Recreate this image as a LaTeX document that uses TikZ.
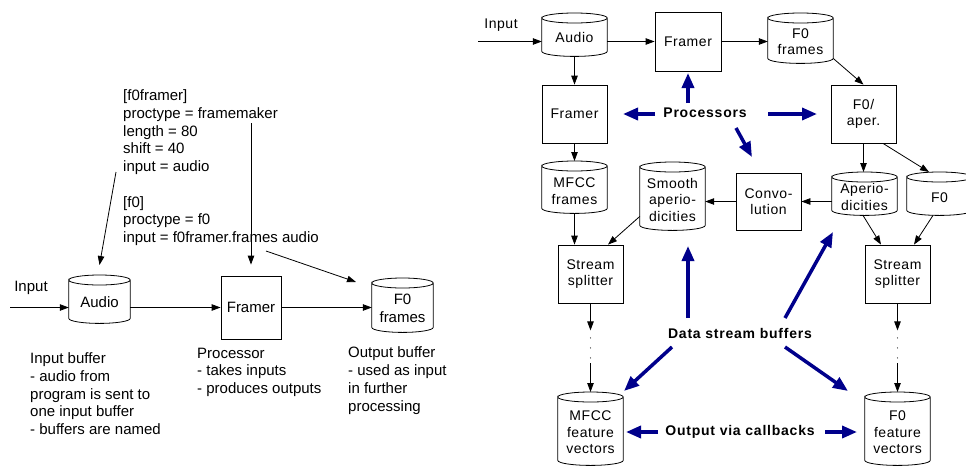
\documentclass[tikz,border=0pt]{standalone}
\usepackage{fontspec}
\setmainfont{Liberation Sans}
\newfontfamily\rfont{Liberation Sans}[LetterSpace=4]
\newfontfamily\lblfont{Liberation Sans}[LetterSpace=5.5]
\usetikzlibrary{arrows.meta,calc}
\definecolor{navy}{RGB}{0,0,139}

% buffer: invisible named box plus the cylinder outline drawn round it
\newcommand\buf[5]{%
  \node[bufbox, minimum width=#4pt, minimum height=#5pt, anchor=north] (#1) at (#2,#3) {};
  \draw[bufline] let \p1=(#1.north west), \p2=(#1.south east), \n1={(\x2-\x1)/2} in
    (\x1,\y1-5pt) arc[start angle=180, end angle=-180, x radius=\n1, y radius=5pt]
    -- (\x1,\y2+5pt) arc[start angle=180, end angle=360, x radius=\n1, y radius=5pt]
    -- (\x2,\y1-5pt);
}

\begin{document}
\begin{tikzpicture}[x=1pt,y=-1pt,
  bufbox/.style={rectangle, inner sep=0pt, draw=none},
  bufline/.style={draw, line width=0.8pt},
  procbox/.style={rectangle, draw, line width=0.8pt, inner sep=0pt, align=center},
  ltxt/.style={inner sep=0pt, align=center, font=\fontsize{15}{17.75}\selectfont},
  note/.style={inner sep=0pt, align=left, anchor=base west, font=\fontsize{15}{17.75}\selectfont},
  rtxt/.style={inner sep=0pt, align=center, font=\rfont\fontsize{14}{16.5}\selectfont},
  lbl/.style={inner sep=0pt, font=\lblfont\bfseries\fontsize{14}{16}\selectfont},
  arr/.style={draw, line width=0.8pt, -{Triangle[length=9pt,width=6.5pt]}},
  bluearr/.style={draw=navy, line width=3.5pt, -{Triangle[length=15pt,width=12pt]}}]
\useasboundingbox (0,0) rectangle (966,466);

% ---------- left: a single processing chain ----------
\buf{audioL}{99.5}{275}{61}{48}
\node[ltxt] (audioLt) at (99.5,302) {Audio};
\node[procbox, ltxt, draw, minimum width=60pt, minimum height=63pt] (framerL) at (251,307.5) {Framer};
\buf{f0fL}{402.5}{278}{61}{54}
\node[ltxt] (f0fLt) at (402.5,308.5) {F0\\frames};

\node[ltxt] (inLlabel) at (31,288) {Input};
\coordinate (inL) at (10,307.5);
\draw[arr] (inL) -- (inL -| audioL.west);
\draw[arr] (audioL.east |- framerL) -- (framerL.west);
\draw[arr] (framerL.east) -- (framerL.east -| f0fL.west);

% multi-line notes are anchored on the baseline of their last line
\node[note] (cfg) at (123,242.5) {[f0framer]\\proctype = framemaker\\length = 80\\shift = 40\\input = audio\\[17.75pt]
  [f0]\\proctype = f0\\input = f0framer.frames audio};
\coordinate (cfgA) at (116,172);
\coordinate (cfgB) at (251,123);
\coordinate (cfgC) at (266,251);
\coordinate (cfgCend) at (356,282);
\draw[arr] (cfgA) -- ([yshift=10pt]audioL.north);
\draw[arr] (cfgB) -- ([yshift=11pt]framerL.north);
\draw[arr] (cfgC) -- (cfgCend);

\node[note] (noteIn) at (30,434.5) {Input buffer\\- audio from\\program is sent to\\one input buffer\\- buffers are named};
\node[note] (noteProc) at (197,393.5) {Processor\\- takes inputs\\- produces outputs};
\node[note] (noteOut) at (348,411) {Output buffer\\- used as input\\in further\\processing};

% ---------- right: the full feature network ----------
\buf{audioR}{574.5}{13}{65}{43}
\node[rtxt] (audioRt) at (574.5,37) {Audio};
\node[procbox, rtxt, draw, minimum width=66pt, minimum height=59pt] (framerR1) at (688,41.5) {Framer};
\buf{f0fR}{800.5}{13}{65}{50}
\node[rtxt] (f0fRt) at (800.5,41.5) {F0\\frames};
\node[procbox, rtxt, draw, minimum width=65pt, minimum height=58pt] (f0ap) at (863.5,114) {F0/\\aper.};
\buf{aper}{864.5}{172}{65}{43}
\node[rtxt] (apert) at (864.5,197) {Aperio-\\dicities};
\buf{f0c}{939.5}{172}{65}{43}
\node[rtxt] (f0ct) at (939.5,198) {F0};
\node[procbox, rtxt, draw, minimum width=65pt, minimum height=57pt] (conv) at (768.5,201.5) {Convo-\\lution};
\buf{smooth}{672.5}{162}{65}{68}
\node[rtxt] (smootht) at (672.5,199.5) {Smooth\\aperio-\\dicities};
\node[procbox, rtxt, draw, minimum width=65pt, minimum height=58pt] (framerR2) at (574.5,114) {Framer};
\buf{mfccf}{574.5}{161}{65}{52}
\node[rtxt] (mfccft) at (574.5,191) {MFCC\\frames};
\node[procbox, rtxt, draw, minimum width=65pt, minimum height=58pt] (ss1) at (590.5,274) {Stream\\splitter};
\node[procbox, rtxt, draw, minimum width=65pt, minimum height=58pt] (ss2) at (897.5,274) {Stream\\splitter};
\buf{mfccfv}{590.5}{392}{65}{73}
\node[rtxt] (mfccfvt) at (590.5,432.5) {MFCC\\feature\\vectors};
\buf{f0fv}{897.5}{392}{65}{73}
\node[rtxt] (f0fvt) at (897.5,432.5) {F0\\feature\\vectors};

\node[rtxt] (inRlabel) at (501,25) {Input};
\coordinate (inR) at (478,41.5);
\draw[arr] (inR) -- (inR -| audioR.west);
\draw[arr] (audioR.east |- framerR1) -- (framerR1.west);
\draw[arr] (framerR1.east) -- (framerR1.east -| f0fR.west);
\draw[arr] ([yshift=5pt]f0fR.south east) -- (f0ap.north);
\draw[arr] (f0ap.south) -- (f0ap.south |- aper.north);
\draw[arr] ([xshift=19.5pt]f0ap.south) -- ([xshift=-10.5pt]f0c.north);
\draw[arr] (aper.west |- conv) -- (conv.east);
\draw[arr] (conv.west) -- (conv.west -| smooth.east);
\draw[arr] (audioR.south) -- (framerR2.north);
\draw[arr] (framerR2.south) -- (mfccf.north);
\draw[arr] (mfccf.south) -- (mfccf.south |- ss1.north);
\draw[arr] ([yshift=14pt]smooth.south west) -- ([xshift=17.5pt]ss1.north);
\draw[arr] ([xshift=-1.5pt]aper.south) -- ([xshift=-16.5pt]ss2.north);
\draw[arr] ([xshift=-6.5pt]f0c.south) -- ([xshift=16.5pt]ss2.north);

% splitter outputs: arrow, a gap of dots, arrow
\foreach \s/\b in {ss1/mfccfv, ss2/f0fv} {
  \draw[arr] (\s.south) -- ++(0,27);
  \foreach \d in {34.5,44.5,54.5}
    \fill ([yshift=-\d pt]\s.south) circle[radius=0.6pt];
  \draw[arr] ([yshift=29pt]\b.north) -- (\b.north);
}

% ---------- blue callouts ----------
\node[lbl] (procLbl) at (705,113) {Processors};
\coordinate (pA) at (688,103); \coordinate (pAe) at (688,73);
\coordinate (pB) at (655,114); \coordinate (pBe) at (623,114);
\coordinate (pC) at (768,114); \coordinate (pCe) at (817,114);
\coordinate (pD) at (736,128); \coordinate (pDe) at (752,157);
\foreach \a in {pA,pB,pC,pD} \draw[bluearr] (\a) -- (\a e);

\node[lbl] (dataLbl) at (740,333) {Data stream buffers};
\coordinate (dA) at (688,318); \coordinate (dAe) at (688,246);
\coordinate (dB) at (672,347); \coordinate (dBe) at (624,391);
\coordinate (dC) at (785,318); \coordinate (dCe) at (833,232);
\coordinate (dD) at (785,347); \coordinate (dDe) at (848,391);
\foreach \a in {dA,dB,dC,dD} \draw[bluearr] (\a) -- (\a e);

\node[lbl] (outLbl) at (740,432) {Output via callbacks};
\coordinate (oA) at (658,432); \coordinate (oAe) at (626,432);
\coordinate (oB) at (825,432); \coordinate (oBe) at (857,432);
\foreach \a in {oA,oB} \draw[bluearr] (\a) -- (\a e);
\end{tikzpicture}
\end{document}
